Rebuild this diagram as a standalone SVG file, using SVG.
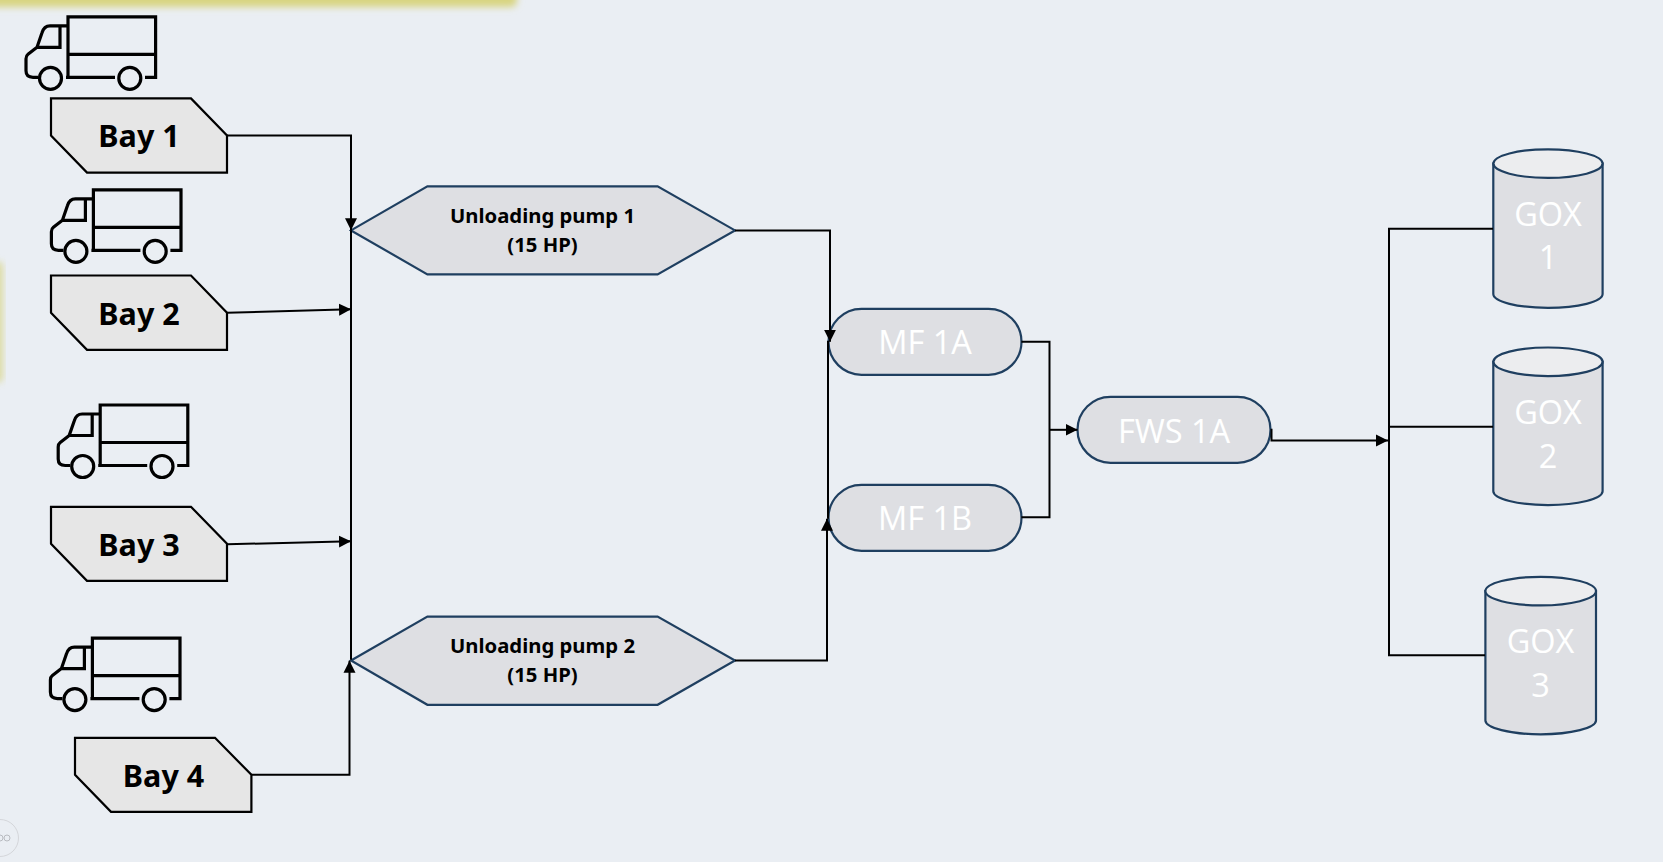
<svg xmlns="http://www.w3.org/2000/svg" width="1663" height="862" viewBox="0 0 1663 862">
<style>
.bay{fill:#e6e6e6;stroke:#000;stroke-width:2.2}
.baytxt{font:700 30.5px "Noto Sans","Open Sans",sans-serif;fill:#000;text-anchor:middle}
.eq{fill:#dedfe3;stroke:#1f3f60;stroke-width:2.2}
.top{fill:#ecedef;stroke:#1f3f60;stroke-width:2.2}
.ptxt{font:700 20.3px "Noto Sans","Open Sans",sans-serif;fill:#000;text-anchor:middle}
.wtxt{font:400 32.5px "Open Sans","Noto Sans",sans-serif;fill:#fff;text-anchor:middle}
.c{fill:none;stroke:#000;stroke-width:2}
.a{marker-end:url(#ah)}
.truck{fill:none;stroke:#000;stroke-width:3.2;stroke-linejoin:miter}
</style>
<defs>
<marker id="ah" markerUnits="userSpaceOnUse" markerWidth="14" markerHeight="14" refX="12" refY="7" orient="auto"><path d="M0,1L12,7L0,13Z" fill="#000"/></marker>
<filter id="bl" x="-20%" y="-200%" width="140%" height="500%"><feGaussianBlur stdDeviation="3.5"/></filter>
<g id="truck">
<path class="truck" d="M68,76.5V16H155.6V76.5H145M115,76.5H66M68,53.5H155.6M68,25H50Q44,25 42,32L37,46.5H60V25M37,46.5L28,53.5Q26,55 26,58V70Q26,76.5 33,76.5H38"/>
<circle class="truck" cx="50.5" cy="77.5" r="11"/><circle class="truck" cx="129.8" cy="77.5" r="11"/>
</g>
</defs>
<rect width="1663" height="862" fill="#eaeef3"/>
<g id="background-marks">
<rect x="-20" y="-20" width="537" height="27" rx="6" fill="#d8d480" filter="url(#bl)"/>
<rect x="-10" y="262" width="13" height="120" rx="4" fill="#d8d480" filter="url(#bl)" opacity=".7"/>
<circle cx="0" cy="838" r="18.5" fill="none" stroke="#d4d6da" stroke-width="1"/>
<circle cx="0" cy="838" r="3" fill="none" stroke="#b8bbc0"/><circle cx="7" cy="838" r="3" fill="none" stroke="#b8bbc0"/>
</g>
<g transform="translate(0,0.8)">
<g id="trucks">
<use id="truck1" href="#truck"/>
<use id="truck2" href="#truck" x="25.4" y="173"/>
<use id="truck3" href="#truck" x="32.2" y="388.2"/>
<use id="truck4" href="#truck" x="24.4" y="621.3"/>
</g>
<g id="bay1"><path class="bay" d="M51,97.6H191L227,134.7V171.8H87L51,134.7Z"/><text class="baytxt" x="139" y="146.5">Bay 1</text></g>
<g id="bay2"><path class="bay" d="M51,274.7H191L227,312V349H87L51,312Z"/><text class="baytxt" x="139" y="324.5">Bay 2</text></g>
<g id="bay3"><path class="bay" d="M51,506H191L227,543V580H87L51,543Z"/><text class="baytxt" x="139" y="555.5">Bay 3</text></g>
<g id="bay4"><path class="bay" d="M75,737H215L251.4,774V811H111L75,774Z"/><text class="baytxt" x="163.5" y="786.5">Bay 4</text></g>
<g id="pump1"><path class="eq" d="M351,229.6L427.4,185.6H657.6L735,229.6L657.6,273.6H427.4Z"/><text class="ptxt" x="542.5" y="222.5">Unloading pump 1</text><text class="ptxt" x="542.5" y="251.5">(15 HP)</text></g>
<g id="pump2"><path class="eq" d="M351,659.7L427.4,615.8H657.6L735,659.7L657.6,704H427.4Z"/><text class="ptxt" x="542.5" y="652.5">Unloading pump 2</text><text class="ptxt" x="542.5" y="681.5">(15 HP)</text></g>
<g id="mf1a"><rect class="eq" x="828.5" y="308" width="193" height="66" rx="33"/><text class="wtxt" x="925" y="353.5">MF 1A</text></g>
<g id="mf1b"><rect class="eq" x="828.5" y="484" width="193" height="66" rx="33"/><text class="wtxt" x="925" y="529.5">MF 1B</text></g>
<g id="fws1a"><rect class="eq" x="1077.5" y="396" width="193" height="66" rx="33"/><text class="wtxt" x="1174" y="442.5">FWS 1A</text></g>
<g id="gox1"><path class="eq" d="M1493.3,162.8V293.3C1493.3,301 1518,307 1548,307S1602.6,301 1602.6,293.3V162.8Z"/><ellipse class="top" cx="1548" cy="162.8" rx="54.6" ry="14.3"/><text class="wtxt" x="1548" y="225">GOX</text><text class="wtxt" x="1548" y="268">1</text></g>
<g id="gox2"><path class="eq" d="M1493.3,361V490.5C1493.3,498 1518,504.3 1548,504.3S1602.6,498 1602.6,490.5V361Z"/><ellipse class="top" cx="1548" cy="361" rx="54.6" ry="14.3"/><text class="wtxt" x="1548" y="423.5">GOX</text><text class="wtxt" x="1548" y="467">2</text></g>
<g id="gox3"><path class="eq" d="M1485.4,590.3V719.7C1485.4,727 1510,733.5 1540.7,733.5S1596,727 1596,719.7V590.3Z"/><ellipse class="top" cx="1540.7" cy="590.3" rx="55.3" ry="14.3"/><text class="wtxt" x="1540.5" y="652">GOX</text><text class="wtxt" x="1540.5" y="696">3</text></g>
<g id="connectors">
<path class="c a" d="M227,134.7H351V229.5"/>
<path class="c a" d="M227,312L351,308.5"/>
<path class="c a" d="M227,543.5L351,540.5"/>
<path class="c a" d="M251.4,774H349.5V660"/>
<path class="c" d="M351,229.5V659"/>
<path class="c a" d="M735,229.6H830V341"/>
<path class="c a" d="M735,659.7H827V518"/>
<path class="c" d="M828,340V518"/>
<path class="c" d="M1021.4,341H1049.5V516.5H1021.4"/>
<path class="c a" d="M1049.5,429H1077.5"/>
<path class="c a" d="M1271.5,428V439.6H1388"/>
<path class="c" d="M1493,228H1389V654.4H1485"/>
<path class="c" d="M1389,426H1493"/>
</g>
</g>
</svg>
